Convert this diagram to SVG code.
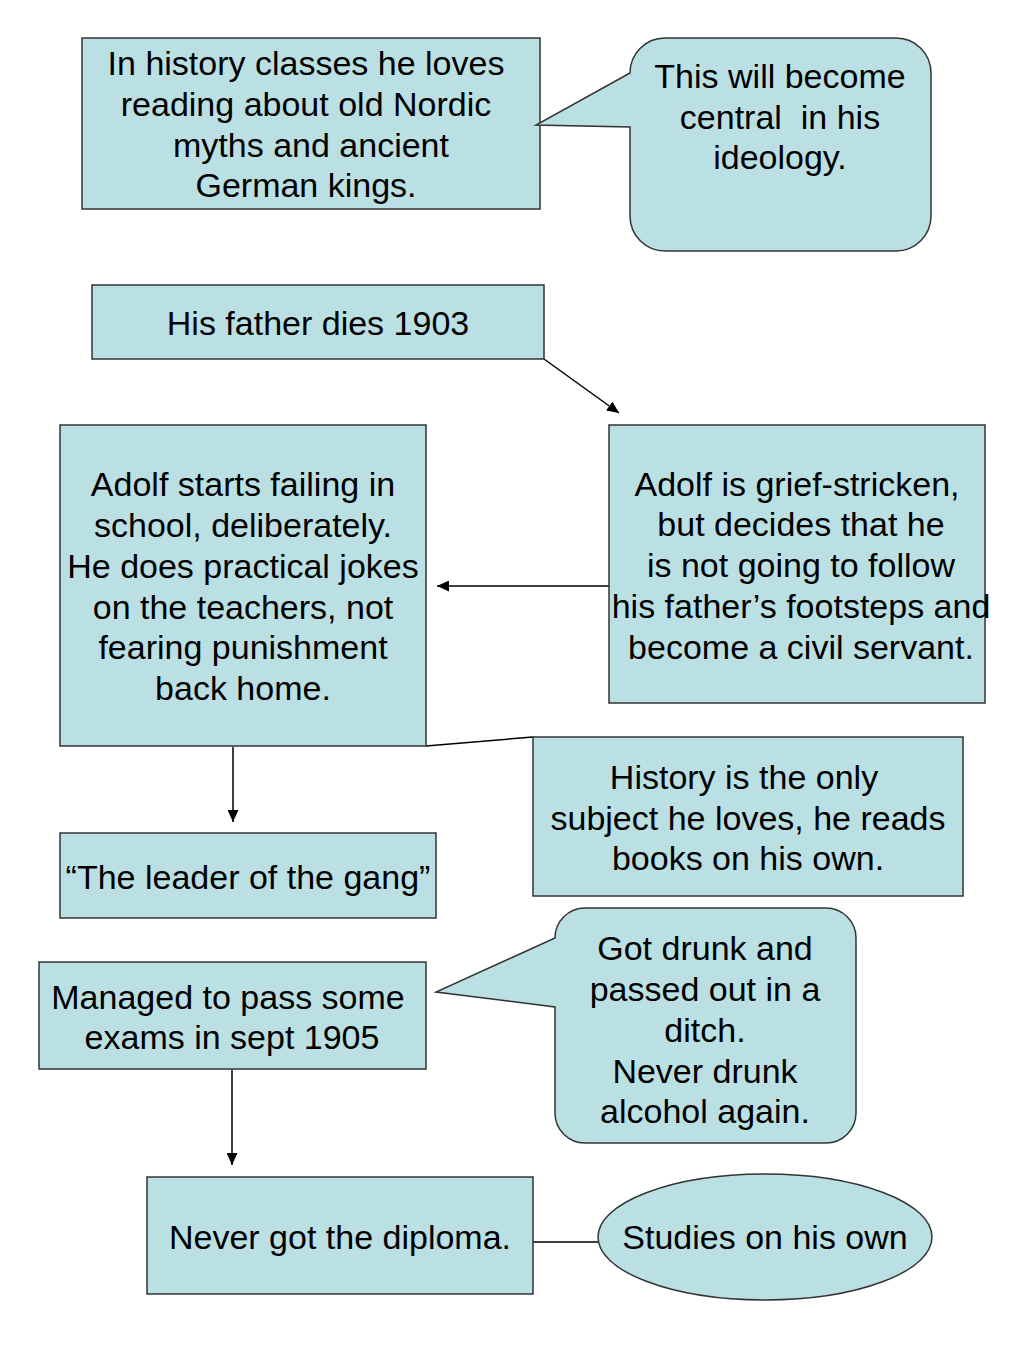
<svg xmlns="http://www.w3.org/2000/svg" width="1024" height="1365" viewBox="0 0 1024 1365">
<style>
.n{fill:#bbe0e3;stroke:#333;stroke-width:1.5}
.t{font-family:"Liberation Sans",Arial,sans-serif;font-size:34px;fill:#000;text-anchor:middle;white-space:pre}
.c{stroke:#000;stroke-width:1.5;fill:none}
</style>
<defs>
<marker id="ah" viewBox="0 0 10 10" refX="10" refY="5" markerWidth="12" markerHeight="11" markerUnits="userSpaceOnUse" orient="auto" preserveAspectRatio="none">
<path d="M0,0L10,5L0,10z" fill="#000"/>
</marker>
</defs>
<rect width="1024" height="1365" fill="#fff"/>
<g id="connectors">
<line class="c" x1="544" y1="359" x2="619" y2="413" marker-end="url(#ah)"/>
<line class="c" x1="609" y1="586" x2="437" y2="586" marker-end="url(#ah)"/>
<line class="c" x1="426" y1="746" x2="533" y2="737"/>
<line class="c" x1="233" y1="747" x2="233" y2="822" marker-end="url(#ah)"/>
<line class="c" x1="232" y1="1070" x2="232" y2="1165" marker-end="url(#ah)"/>
<line class="c" x1="533" y1="1242" x2="598" y2="1242"/>
</g>
<g id="n1">
<rect class="n" x="82" y="38" width="458" height="171"/>
<text class="t"><tspan x="306" y="75">In history classes he loves</tspan><tspan x="306" y="116">reading about old Nordic</tspan><tspan x="311" y="157">myths and ancient</tspan><tspan x="306" y="197">German kings.</tspan></text>
</g>
<g id="n2">
<path class="n" d="M665,38H896A35,35 0 0 1 931,73V216A35,35 0 0 1 896,251H665A35,35 0 0 1 630,216V127L536,125L630,73A35,35 0 0 1 665,38Z"/>
<text class="t"><tspan x="780" y="88">This will become</tspan><tspan x="780" y="129">central  in his</tspan><tspan x="780" y="169">ideology.</tspan></text>
</g>
<g id="n3">
<rect class="n" x="92" y="285" width="452" height="74"/>
<text class="t" x="318" y="335">His father dies 1903</text>
</g>
<g id="n4">
<rect class="n" x="60" y="425" width="366" height="321"/>
<text class="t"><tspan x="243" y="496">Adolf starts failing in</tspan><tspan x="243" y="537">school, deliberately.</tspan><tspan x="243" y="578">He does practical jokes</tspan><tspan x="243" y="619">on the teachers, not</tspan><tspan x="243" y="659">fearing punishment</tspan><tspan x="243" y="700">back home.</tspan></text>
</g>
<g id="n5">
<rect class="n" x="609" y="425" width="376" height="278"/>
<text class="t"><tspan x="797" y="496">Adolf is grief-stricken,</tspan><tspan x="801" y="536">but decides that he</tspan><tspan x="801" y="577">is not going to follow</tspan><tspan x="801" y="618">his father’s footsteps and</tspan><tspan x="801" y="659">become a civil servant.</tspan></text>
</g>
<g id="n6">
<rect class="n" x="533" y="737" width="430" height="159"/>
<text class="t"><tspan x="744" y="789">History is the only</tspan><tspan x="748" y="830">subject he loves, he reads</tspan><tspan x="748" y="870">books on his own.</tspan></text>
</g>
<g id="n7">
<rect class="n" x="60" y="833" width="376" height="85"/>
<text class="t" x="248" y="889">“The leader of the gang”</text>
</g>
<g id="n8">
<path class="n" d="M585,908H826A30,30 0 0 1 856,938V1113A30,30 0 0 1 826,1143H585A30,30 0 0 1 555,1113V1007L436,992L555,938A30,30 0 0 1 585,908Z"/>
<text class="t"><tspan x="705" y="960">Got drunk and</tspan><tspan x="705" y="1001">passed out in a</tspan><tspan x="705" y="1042">ditch.</tspan><tspan x="705" y="1083">Never drunk</tspan><tspan x="705" y="1123">alcohol again.</tspan></text>
</g>
<g id="n9">
<rect class="n" x="39" y="962" width="387" height="107"/>
<text class="t"><tspan x="228" y="1009">Managed to pass some</tspan><tspan x="232" y="1049">exams in sept 1905</tspan></text>
</g>
<g id="n10">
<rect class="n" x="147" y="1177" width="386" height="117"/>
<text class="t" x="340" y="1249">Never got the diploma.</text>
</g>
<g id="n11">
<ellipse class="n" cx="765" cy="1237" rx="167" ry="63"/>
<text class="t" x="765" y="1249">Studies on his own</text>
</g>
</svg>
